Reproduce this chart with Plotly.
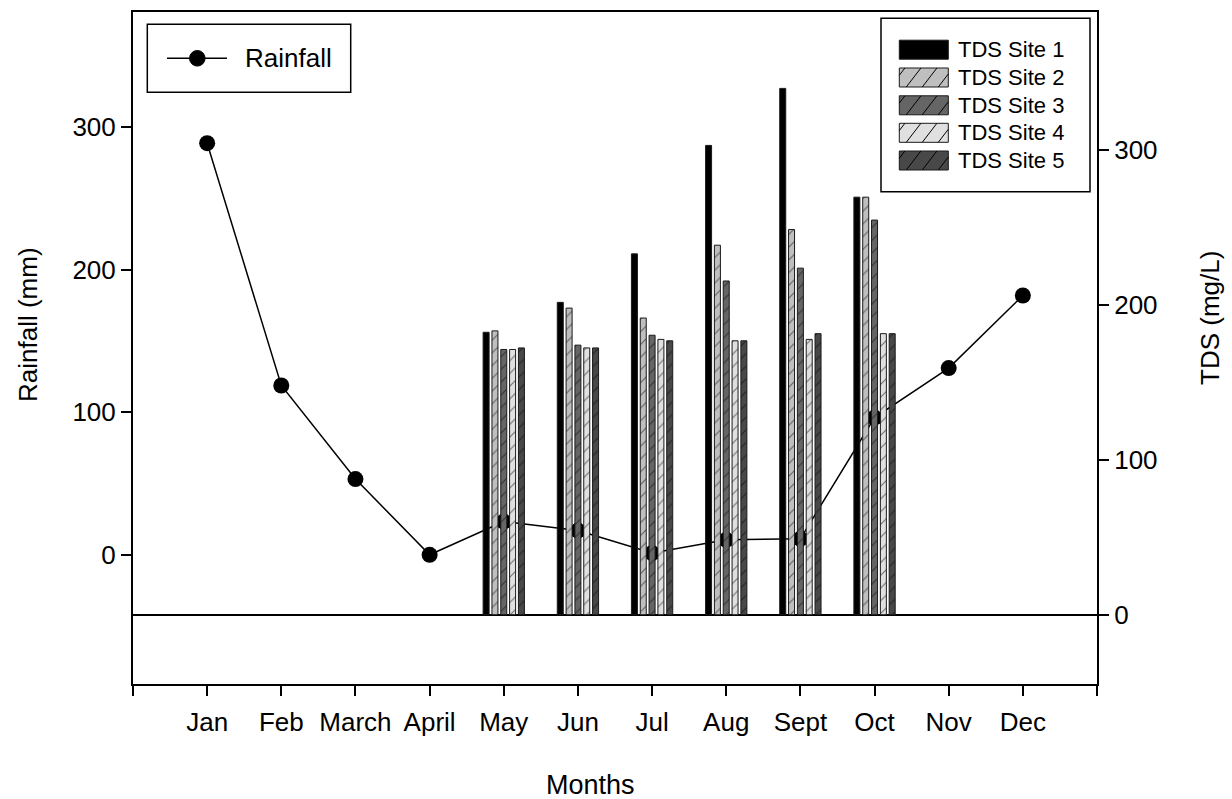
import plotly.graph_objects as go

# ---- data -------------------------------------------------------------
months = ["Jan", "Feb", "March", "April", "May", "Jun",
          "Jul", "Aug", "Sept", "Oct", "Nov", "Dec"]
rainfall_mm = [288.6, 118.7, 53.1, 0.0, 23.3, 17.0, 1.2, 10.5, 11.2, 96.2, 130.9, 181.8]

tds_months = ["May", "Jun", "Jul", "Aug", "Sept", "Oct"]
tds_site1 = [182.3, 201.6, 232.9, 302.9, 339.7, 269.5]
tds_site2 = [183.2, 197.9, 191.5, 238.5, 248.6, 269.5]
tds_site3 = [171.2, 174.0, 180.4, 215.4, 223.7, 254.7]
tds_site4 = [171.2, 172.2, 177.7, 176.8, 177.7, 181.4]
tds_site5 = [172.2, 172.2, 176.8, 176.8, 181.4, 181.4]

site_names = ["TDS Site 1", "TDS Site 2", "TDS Site 3", "TDS Site 4", "TDS Site 5"]
site_values = [tds_site1, tds_site2, tds_site3, tds_site4, tds_site5]
site_fill = ["#000000", "#bfbfbf", "#656565", "#e0e0e0", "#484848"]
site_hatched = [False, True, True, True, True]

FONT = "Liberation Sans, Arial, sans-serif"

# ---- figure geometry (pixels) -----------------------------------------
FIG_W, FIG_H = 1232, 799
M_L, M_R, M_T, M_B = 133, 135, 12, 115
PLOT_W = FIG_W - M_L - M_R
PLOT_H = FIG_H - M_T - M_B


def px(xpix):
    return (xpix - M_L) / PLOT_W


def py(ypix):
    return (M_T + PLOT_H - ypix) / PLOT_H


month_pos = {m: i + 1 for i, m in enumerate(months)}

fig = go.Figure()

# rainfall line (left axis, drawn beneath the bars)
fig.add_trace(go.Scatter(
    x=[month_pos[m] for m in months], y=rainfall_mm,
    mode="lines+markers", name="Rainfall",
    line=dict(color="black", width=1.5),
    marker=dict(color="black", size=16),
    xaxis="x", yaxis="y", showlegend=False,
))

# grouped TDS bars (right axis)
BAR_STEP = 0.119
BAR_W = 0.081
for k, (name, vals, col, hatched) in enumerate(zip(site_names, site_values, site_fill, site_hatched)):
    marker = dict(color=col, line=dict(color="#1a1a1a", width=1))
    if hatched:
        marker["pattern"] = dict(shape="/", fgcolor="black", bgcolor=col,
                                 size=9, solidity=0.12)
    fig.add_trace(go.Bar(
        x=[month_pos[m] for m in tds_months], y=vals, name=name,
        width=BAR_W, offset=(k - 2) * BAR_STEP - BAR_W / 2,
        marker=marker, xaxis="x", yaxis="y2", showlegend=False,
    ))

# ---- hand-built legends ------------------------------------------------
shapes = []
annotations = []

# Rainfall legend
shapes.append(dict(type="rect", xref="paper", yref="paper",
                   x0=px(147.3), x1=px(350.7), y0=py(92.3), y1=py(24.3),
                   line=dict(color="black", width=1.5), fillcolor="white"))
shapes.append(dict(type="line", xref="paper", yref="paper",
                   x0=px(167), x1=px(227), y0=py(58.3), y1=py(58.3),
                   line=dict(color="black", width=1.5)))
shapes.append(dict(type="circle", xref="paper", yref="paper",
                   x0=px(197.3 - 7.8), x1=px(197.3 + 7.8),
                   y0=py(58.3 + 7.8), y1=py(58.3 - 7.8),
                   line=dict(color="black", width=1), fillcolor="black"))
annotations.append(dict(text="Rainfall", xref="paper", yref="paper",
                        x=px(243), y=py(58.3), xanchor="left", yanchor="middle",
                        showarrow=False, font=dict(family=FONT, size=26, color="black")))

# TDS legend
shapes.append(dict(type="rect", xref="paper", yref="paper",
                   x0=px(881), x1=px(1090), y0=py(191.7), y1=py(18.3),
                   line=dict(color="black", width=1.5), fillcolor="white"))

SW_X0, SW_X1, SW_H = 899.3, 948.3, 19
row_centers = [49.7, 77.5, 105.3, 132.8, 160.5]


def hatch_lines(x0, x1, y0, y1, step=16.0, slope=1.3):
    """Diagonal '/' strokes clipped to a pixel rectangle (y grows downward)."""
    h = y1 - y0
    dx = h / slope
    segs = []
    a = x0 - dx + step * 0.35
    while a < x1:
        t0 = max(0.0, (x0 - a) / dx)
        t1 = min(1.0, (x1 - a) / dx)
        if t1 > t0:
            segs.append((a + t0 * dx, y1 - t0 * h, a + t1 * dx, y1 - t1 * h))
        a += step
    return segs


for name, col, hatched, cy in zip(site_names, site_fill, site_hatched, row_centers):
    y0, y1 = cy - SW_H / 2, cy + SW_H / 2
    shapes.append(dict(type="rect", xref="paper", yref="paper",
                       x0=px(SW_X0), x1=px(SW_X1), y0=py(y1), y1=py(y0),
                       line=dict(color="#1a1a1a", width=1), fillcolor=col))
    if hatched:
        for (ax, ay, bx, by) in hatch_lines(SW_X0, SW_X1, y0, y1):
            shapes.append(dict(type="line", xref="paper", yref="paper",
                               x0=px(ax), y0=py(ay), x1=px(bx), y1=py(by),
                               line=dict(color="black", width=1)))
    annotations.append(dict(text=name, xref="paper", yref="paper",
                            x=px(956), y=py(cy), xanchor="left", yanchor="middle",
                            showarrow=False, font=dict(family=FONT, size=22, color="black")))

# axis titles
title_font = dict(family=FONT, size=27, color="black")
side_title_font = dict(family=FONT, size=26, color="black")
annotations.append(dict(text="Months", xref="paper", yref="paper",
                        x=px(590), y=py(785), xanchor="center", yanchor="middle",
                        showarrow=False, font=title_font))
annotations.append(dict(text="Rainfall (mm)", xref="paper", yref="paper",
                        x=px(28), y=py(325), xanchor="center", yanchor="middle",
                        textangle=-90, showarrow=False, font=side_title_font))
annotations.append(dict(text="TDS (mg/L)", xref="paper", yref="paper",
                        x=px(1210), y=py(318), xanchor="center", yanchor="middle",
                        textangle=-90, showarrow=False, font=side_title_font))

# ---- axes ---------------------------------------------------------------
tick_font = dict(family=FONT, size=26, color="black")

fig.update_layout(
    width=FIG_W, height=FIG_H,
    margin=dict(l=M_L, r=M_R, t=M_T, b=M_B, autoexpand=False),
    paper_bgcolor="white", plot_bgcolor="white",
    barmode="overlay", showlegend=False,
    font=dict(family=FONT, color="black"),
    xaxis=dict(
        range=[0, 13], tickmode="array",
        tickvals=list(range(0, 14)),
        ticktext=[""] + months + [""],
        ticks="outside", ticklen=10, tickwidth=2, tickcolor="black",
        ticklabelstandoff=4,
        showline=True, linecolor="black", linewidth=2, mirror=True,
        showgrid=False, zeroline=False, tickfont=tick_font,
    ),
    yaxis=dict(
        range=[-90.6, 380.6], tickmode="array", tickvals=[0, 100, 200, 300],
        ticks="outside", ticklen=10, tickwidth=2, tickcolor="black",
        showline=True, linecolor="black", linewidth=2,
        showgrid=False, zeroline=False, tickfont=tick_font,
    ),
    yaxis2=dict(
        range=[-44.7, 389.0], tickmode="array", tickvals=[0, 100, 200, 300],
        overlaying="y", side="right", anchor="x",
        ticks="outside", ticklen=10, tickwidth=2, tickcolor="black",
        showline=True, linecolor="black", linewidth=2,
        showgrid=False, zeroline=True, zerolinecolor="black", zerolinewidth=2,
        tickfont=tick_font,
    ),
    shapes=shapes,
    annotations=annotations,
)

fig.write_html("out.html")
